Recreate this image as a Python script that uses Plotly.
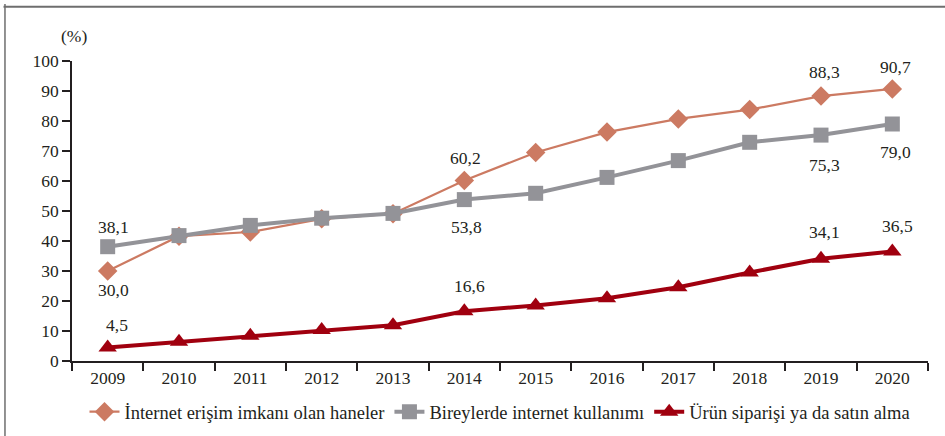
import plotly.graph_objects as go

years = ["2009", "2010", "2011", "2012", "2013", "2014", "2015", "2016", "2017", "2018", "2019", "2020"]
households = [30.0, 41.6, 43.0, 47.4, 49.1, 60.2, 69.5, 76.3, 80.7, 83.8, 88.3, 90.7]
individuals = [38.1, 41.8, 45.2, 47.6, 49.2, 53.8, 55.9, 61.2, 66.8, 72.9, 75.3, 79.0]
purchase = [4.5, 6.4, 8.4, 10.3, 11.9, 16.6, 18.5, 20.9, 24.6, 29.5, 34.1, 36.5]

name_h = "İnternet erişim imkanı olan haneler"
name_i = "Bireylerde internet kullanımı"
name_p = "Ürün siparişi ya da satın alma"

c_h = "#CC7A62"
c_i = "#939398"
c_p = "#A0000F"
txt = "#231F20"
FONT = "Liberation Serif"
FS = 17.5

fig = go.Figure()
fig.add_trace(go.Scatter(x=years, y=households, name=name_h, mode="lines+markers",
                         line=dict(color=c_h, width=2.2),
                         marker=dict(symbol="diamond", size=15, color=c_h)))
fig.add_trace(go.Scatter(x=years, y=individuals, name=name_i, mode="lines+markers",
                         line=dict(color=c_i, width=4),
                         marker=dict(symbol="square", size=15, color=c_i)))
fig.add_trace(go.Scatter(x=years, y=purchase, name=name_p, mode="lines+markers",
                         line=dict(color=c_p, width=4),
                         marker=dict(symbol="triangle-up", size=16, color=c_p)))

def fmt(v):
    return f"{v:.1f}".replace(".", ",")

# (series values, index, yshift, xshift)
labels = [
    (households, 0, -19, 6), (households, 5, 22, 1), (households, 10, 24, 3), (households, 11, 22, 3),
    (individuals, 0, 20, 6), (individuals, 5, -27, 2), (individuals, 10, -30, 3), (individuals, 11, -28, 3),
    (purchase, 0, 23, 9), (purchase, 5, 25, 5), (purchase, 10, 27, 3), (purchase, 11, 26, 5),
]
for series, i, ys, xs in labels:
    fig.add_annotation(x=i, y=series[i], xref="x", yref="y", text=fmt(series[i]), showarrow=False,
                       yshift=ys, xshift=xs, xanchor="center", yanchor="middle",
                       font=dict(family=FONT, size=FS, color=txt))

fig.add_annotation(x=0, y=1, xref="paper", yref="paper", text="(%)", showarrow=False,
                   xanchor="center", yanchor="middle", yshift=25, xshift=2,
                   font=dict(family=FONT, size=FS, color=txt))

# frame lines (top and left)
fig.add_shape(type="line", xref="paper", yref="paper", x0=-0.08, x1=1.03, y0=1.181, y1=1.181,
              line=dict(color="#6E6E6E", width=2))
fig.add_shape(type="line", xref="paper", yref="paper", x0=-0.0783, x1=-0.0783, y0=1.19, y1=-0.3,
              line=dict(color="#6E6E6E", width=1.5))

fig.update_layout(
    width=945, height=436,
    margin=dict(l=72, r=17, t=61, b=75, autoexpand=False),
    paper_bgcolor="white", plot_bgcolor="white",
    font=dict(family=FONT, size=FS, color=txt),
    showlegend=True,
    legend=dict(orientation="h", x=0.5, xanchor="center", y=-0.107, yanchor="top",
                font=dict(family=FONT, size=18.5, color=txt), itemwidth=30,
                tracegroupgap=0, traceorder="normal"),
    xaxis=dict(type="category", range=[-0.5, 11.5], showline=True, linecolor=txt, linewidth=1.5,
               ticks="outside", tickson="boundaries", ticklen=8, tickcolor=txt, tickwidth=1.5,
               showgrid=False, zeroline=False, automargin=False,
               tickfont=dict(family=FONT, size=FS, color=txt)),
    yaxis=dict(range=[0, 100], dtick=10, showline=True, linecolor=txt, linewidth=1.5,
               ticks="outside", ticklen=8, tickcolor=txt, tickwidth=1.5,
               showgrid=False, zeroline=False, automargin=False,
               tickfont=dict(family=FONT, size=FS, color=txt)),
)

fig.write_html("out.html", config={"displayModeBar": False},
               post_script="document.body.style.margin='0';")
